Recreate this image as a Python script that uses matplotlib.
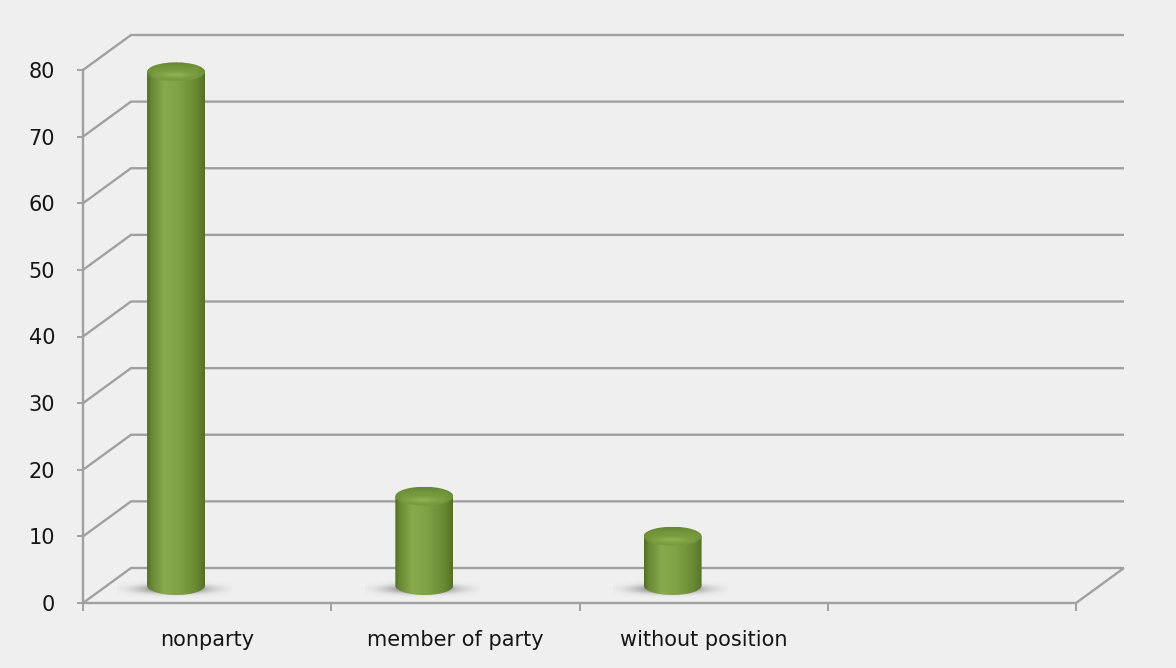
import numpy as np
import matplotlib
matplotlib.use("Agg")
import matplotlib.pyplot as plt
from matplotlib.path import Path
from matplotlib.patches import PathPatch, Ellipse
from matplotlib.colors import LinearSegmentedColormap, to_rgb

# ---- data ----
categories = ["nonparty", "member of party", "without position"]
values = [77.1, 13.4, 7.4]
n_slots = 4                      # the category axis has one empty slot at the end
y_ticks = list(range(0, 90, 10))

# ---- style ----
BG = "#efefef"
GRID = "#a0a0a0"
TEXT = "#151515"
FONT = 15

W, H, DPI = 1176, 668, 100
X0_PX, Y0_PX = 83, 65            # front-plane origin (from left / from bottom)
SLOT_PX = 248.25                 # width of one category slot
UNIT_PX = 533 / 80               # pixels per value unit
DEPTH_PX = (48, 35)              # oblique offset of the back wall

fig = plt.figure(figsize=(W / DPI, H / DPI), dpi=DPI, facecolor=BG)
ax = fig.add_axes([0, 0, 1, 1])
ax.set_facecolor(BG)
ax.set_xlim(-X0_PX / SLOT_PX, (W - X0_PX) / SLOT_PX)
ax.set_ylim(-Y0_PX / UNIT_PX, (H - Y0_PX) / UNIT_PX)
ax.set_autoscale_on(False)

ddx = DEPTH_PX[0] / SLOT_PX
ddy = DEPTH_PX[1] / UNIT_PX

# ---- back wall gridlines with their oblique connectors ----
line_kw = dict(color=GRID, lw=1.7, solid_capstyle="butt", solid_joinstyle="miter", zorder=1)
for v in y_ticks:
    ax.plot([0, ddx, n_slots + ddx], [v, v + ddy, v + ddy], **line_kw)
ax.plot([n_slots, n_slots + ddx], [0, ddy], **line_kw)

# ---- front axes (spines + ticks) ----
for side in ("top", "right"):
    ax.spines[side].set_visible(False)
ax.spines["left"].set_position(("data", 0))
ax.spines["left"].set_bounds(0, 80)
ax.spines["bottom"].set_position(("data", 0))
ax.spines["bottom"].set_bounds(0, n_slots)
for side in ("left", "bottom"):
    ax.spines[side].set_color(GRID)
    ax.spines[side].set_linewidth(1.7)
    ax.spines[side].set_zorder(1)

ax.set_yticks(y_ticks)
ax.set_yticklabels([str(v) for v in y_ticks])
ax.tick_params(axis="y", direction="out", length=6 * 72 / DPI, width=1.4,
               color=GRID, pad=22 * 72 / DPI, labelsize=FONT, labelcolor=TEXT)

ax.set_xticks(range(n_slots + 1))
ax.set_xticklabels([""] * (n_slots + 1))
ax.set_xticks([i + 0.5 for i in range(len(categories))], minor=True)
ax.set_xticklabels(categories, minor=True)
ax.tick_params(axis="x", which="major", direction="out", length=8 * 72 / DPI,
               width=1.4, color=GRID)
ax.tick_params(axis="x", which="minor", length=0, pad=27 * 72 / DPI,
               labelsize=FONT, labelcolor=TEXT)

# ---- cylinders ----
bar_w = 58 / SLOT_PX
ell_h = 19 / UNIT_PX
base = ddy / 2                   # cylinders stand at mid depth
bar_shift = 0.375                # position of each cylinder inside its slot

body_cmap = LinearSegmentedColormap.from_list("body", [
    (0.00, "#4f6c27"), (0.07, "#678733"), (0.30, "#88a94c"),
    (0.55, "#80a145"), (0.85, "#698933"), (1.00, "#536f28")])


def draw_cylinder(cx, value, z):
    x0, x1 = cx - bar_w / 2, cx + bar_w / 2
    top = base + value

    # soft floor shadow
    sx = np.linspace(-1, 1, 200)
    sy = np.linspace(-1, 1, 80)
    U, T = np.meshgrid(sx, sy)
    alpha = 0.85 * np.exp(-(np.abs(U) ** 2.2) / (2 * 0.40 ** 2) - (T ** 2) / (2 * 0.30 ** 2))
    rgba = np.zeros((80, 200, 4))
    rgba[..., :3] = 0.36
    rgba[..., 3] = alpha
    sh_w = 0.23
    ax.imshow(rgba, extent=[cx - 0.01 - sh_w, cx - 0.01 + sh_w,
                            base - 0.5 - 1.5, base - 0.5 + 1.5],
              origin="lower", aspect="auto", interpolation="bilinear", zorder=z)

    # body: rectangle closed by the lower half of the base ellipse
    t = np.linspace(np.pi, 2 * np.pi, 60)
    arc = np.column_stack([cx + bar_w / 2 * np.cos(t), base + ell_h / 2 * np.sin(t)])
    verts = np.vstack([[x0, top], arc, [x1, top], [x0, top]])
    codes = [Path.MOVETO] + [Path.LINETO] * (len(verts) - 2) + [Path.CLOSEPOLY]
    clip = PathPatch(Path(verts, codes), transform=ax.transData,
                     facecolor="none", edgecolor="none")
    grad = body_cmap(np.linspace(0, 1, 256))[None, :, :3]
    im = ax.imshow(grad, extent=[x0, x1, base - ell_h / 2, top], origin="lower",
                   aspect="auto", interpolation="bilinear", zorder=z + 0.1)
    im.set_clip_path(clip)

    # top face
    nx, ny = 120, 60
    U, T = np.meshgrid(np.linspace(-1, 1, nx), np.linspace(-1, 1, ny))
    c_base = np.array(to_rgb("#789a3e"))
    c_dark = np.array(to_rgb("#668632"))
    c_hi = np.array(to_rgb("#98b85a"))
    img = c_base + (c_dark - c_base) * np.clip(T, 0, 1)[..., None] ** 1.5
    hi = np.exp(-((T + 0.35) / 0.28) ** 2) * np.exp(-((U + 0.05) / 0.5) ** 2)
    img = img + (c_hi - img) * (0.75 * hi)[..., None]
    edge = np.clip(np.abs(U) - 0.7, 0, 1) / 0.3
    img = img + (c_dark - img) * (0.6 * edge)[..., None]
    top_clip = Ellipse((cx, top), bar_w, ell_h, transform=ax.transData,
                       facecolor="none", edgecolor="none")
    im2 = ax.imshow(np.clip(img, 0, 1), extent=[x0, x1, top - ell_h / 2, top + ell_h / 2],
                    origin="lower", aspect="auto", interpolation="bilinear", zorder=z + 0.2)
    im2.set_clip_path(top_clip)


for i, v in enumerate(values):
    draw_cylinder(i + bar_shift, v, 3 + i)

fig.savefig("out.png", dpi=DPI, facecolor=BG)
